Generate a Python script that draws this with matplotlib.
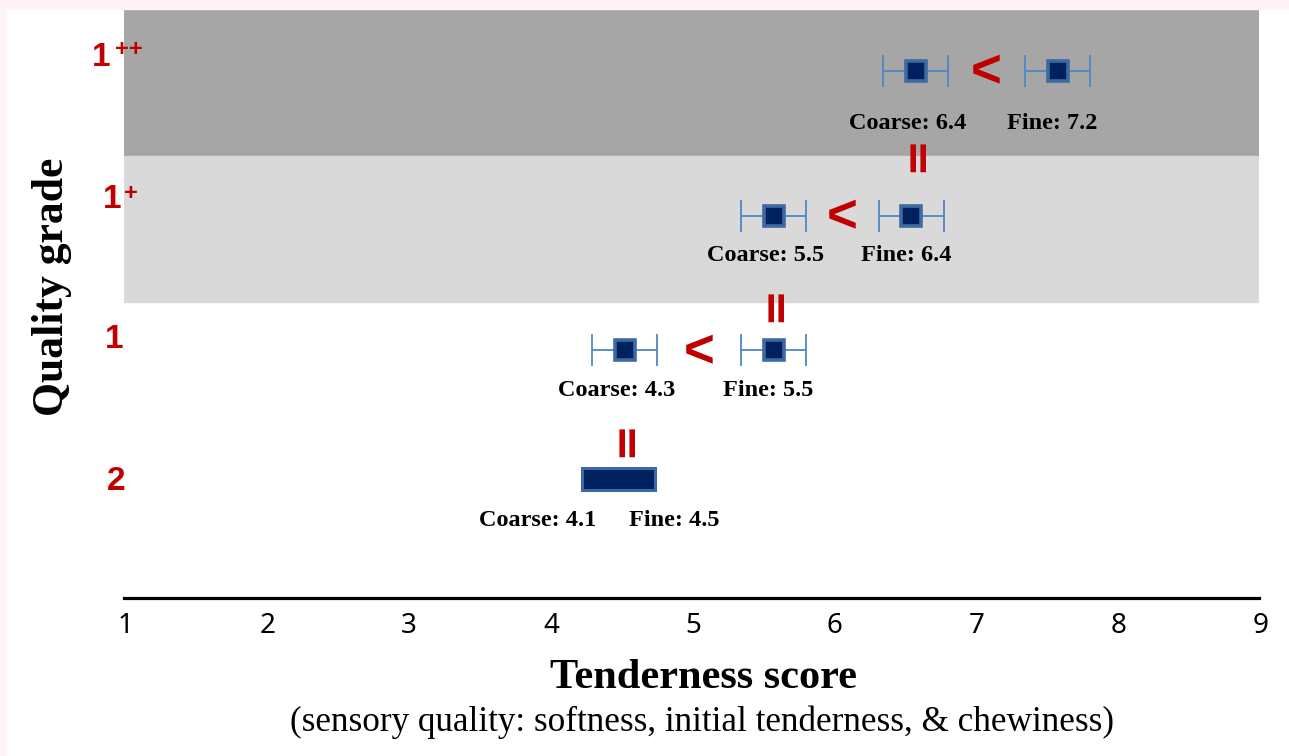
import matplotlib
matplotlib.use("Agg")
import matplotlib.pyplot as plt
import matplotlib.transforms as mtrans
from matplotlib.patches import Rectangle

# ---- data ----
grades = ["1++", "1+", "1", "2"]
coarse_pos = [6.58, 5.58, 4.53]          # marker centres (grades 1++, 1+, 1)
fine_pos = [7.58, 6.55, 5.58]
err_half = [0.23, 0.23, 0.23]
coarse_labels = ["Coarse: 6.4", "Coarse: 5.5", "Coarse: 4.3", "Coarse: 4.1"]
fine_labels = ["Fine: 7.2", "Fine: 6.4", "Fine: 5.5", "Fine: 4.5"]
grade2_range = [4.23, 4.74]
xticks = [1, 2, 3, 4, 5, 6, 7, 8, 9]

# ---- layout ----
W, H = 1289, 756
fig = plt.figure(figsize=(W / 100, H / 100), dpi=100)
fig.patch.set_facecolor("white")
fig.patches.append(Rectangle((0, 0), 6 / W, 1, transform=fig.transFigure, color="#fff4f5", zorder=0))
fig.patches.append(Rectangle((0, 1 - 9 / H), 1, 9 / H, transform=fig.transFigure, color="#fff4f5", zorder=0))

ax_l, ax_r, ax_t, ax_b = 124, 1259, 9, 598
ax = fig.add_axes([ax_l / W, 1 - ax_b / H, (ax_r - ax_l) / W, (ax_b - ax_t) / H])
ax.set_facecolor("none")
row_y = [0.423, 1.41, 2.33, 3.205]
eq_y = [0.985, 2.01, 2.93]
ax.set_xlim(1, 9)
ax.set_ylim(4.02, 0)

ax.axhspan(0, 1, xmin=-0.001, color="#a6a6a6", zorder=0)
ax.axhspan(1, 2, xmin=-0.001, color="#d9d9d9", zorder=0)

for s in ["top", "left", "right"]:
    ax.spines[s].set_visible(False)
ax.spines["bottom"].set_linewidth(2.3)
ax.set_yticks([])
ax.set_xticks(xticks)
ax.set_xticklabels([str(t) for t in xticks], fontfamily="Noto Sans", fontsize=20)
ax.tick_params(axis="x", length=0, pad=10)
offset = mtrans.ScaledTranslation(1.5 / 100, 0, fig.dpi_scale_trans)
for lbl in ax.get_xticklabels():
    lbl.set_transform(lbl.get_transform() + offset)

SERIF = "Liberation Serif"
BSANS = "Liberation Sans"
RED = "#c00000"
NAVY = "#002060"
EDGE = "#3d6aa0"
ERRC = "#4f86c6"
LFS = 17.5

label_dy = [38, 29, 29, 30]   # points below marker
for i in range(3):
    y = row_y[i]
    for xv in (coarse_pos[i], fine_pos[i]):
        ax.errorbar([xv], [y], xerr=[[err_half[i]], [err_half[i]]], fmt="none",
                    ecolor=ERRC, elinewidth=1.3, capsize=11.5, capthick=1.3, zorder=3)
    ax.plot([coarse_pos[i], fine_pos[i]], [y, y], marker="s", ms=15, mfc=NAVY,
            mec=EDGE, mew=2.6, linestyle="none", zorder=4)
    ax.annotate(coarse_labels[i], (coarse_pos[i], y), xytext=(-6, -label_dy[i]),
                textcoords="offset points", ha="center", va="center",
                fontfamily=SERIF, fontweight="bold", fontsize=LFS)
    ax.annotate(fine_labels[i], (fine_pos[i], y), xytext=(-4, -label_dy[i]),
                textcoords="offset points", ha="center", va="center",
                fontfamily=SERIF, fontweight="bold", fontsize=LFS)
    ax.annotate("<", ((coarse_pos[i] + fine_pos[i]) / 2, y), xytext=(0, -2),
                textcoords="offset points", ha="center", va="center",
                fontfamily=BSANS, fontweight="bold", fontsize=38, color=RED)
    ax.text(coarse_pos[i], eq_y[i], "=", rotation=90, ha="center", va="center",
            fontfamily="DejaVu Sans", fontweight="bold", fontsize=32, color=RED)

# grade 2 overlapping bar
y2 = row_y[3]
ax.barh([y2], [grade2_range[1] - grade2_range[0]], left=[grade2_range[0]], height=0.15,
        color=NAVY, edgecolor=EDGE, linewidth=2.2, zorder=4)
ax.annotate(coarse_labels[3], (grade2_range[0], y2), xytext=(-32, -30),
            textcoords="offset points", ha="center", va="center",
            fontfamily=SERIF, fontweight="bold", fontsize=LFS)
ax.annotate(fine_labels[3], (grade2_range[1], y2), xytext=(14, -30),
            textcoords="offset points", ha="center", va="center",
            fontfamily=SERIF, fontweight="bold", fontsize=LFS)

def ftxt(px, py, s, **kw):
    fig.text(px / W, 1 - py / H, s, **kw)

gkw = dict(fontfamily=BSANS, fontweight="bold", color=RED, ha="center", va="center")
ftxt(101, 57, "1", fontsize=24, **gkw)
ftxt(129, 50, "++", fontsize=17, **gkw)
ftxt(112, 200, "1", fontsize=24, **gkw)
ftxt(131, 193, "+", fontsize=17, **gkw)
ftxt(114, 340, "1", fontsize=24, **gkw)
ftxt(116, 482, "2", fontsize=24, **gkw)

ftxt(52, 287, "Quality grade", rotation=90, fontfamily=SERIF, fontweight="bold",
     fontsize=31.5, ha="center", va="center")
ftxt(703, 678, "Tenderness score", fontfamily=SERIF, fontweight="bold",
     fontsize=30.5, ha="center", va="center")
ftxt(702, 722, "(sensory quality: softness, initial tenderness, & chewiness)",
     fontfamily=SERIF, fontsize=25.3, ha="center", va="center")

fig.savefig("out.png", dpi=100)
